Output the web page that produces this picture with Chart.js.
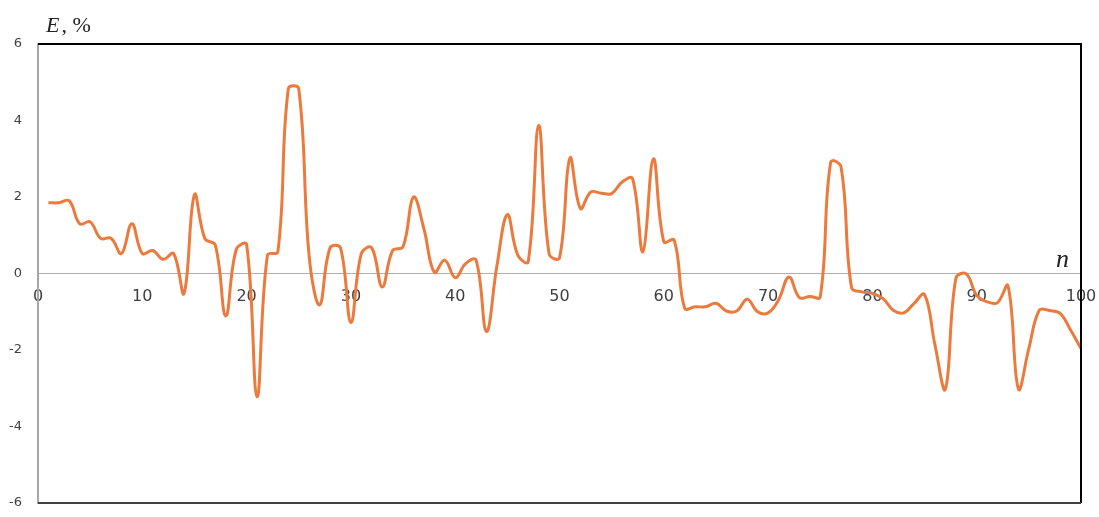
<!DOCTYPE html>
<html lang="ru">
<head>
<meta charset="UTF-8">
<title>E, % по n</title>
<script src="https://cdn.jsdelivr.net/npm/chart.js"></script>
<style>
    body { margin: 0; background: #fff; }
    #wrap { width: 1099px; height: 517px; }
</style>
</head>
<body>
<div id="wrap">
    <canvas id="chartErro" width="1099" height="517"></canvas>
</div>

<script>
// valores (n = 1..100)
const erros = [
    1.85, 1.85, 1.9, 1.3, 1.35, 0.92, 0.92, 0.52, 1.3, 0.52,
    0.6, 0.37, 0.52, -0.52, 2.06, 0.91, 0.74, -1.11, 0.62, 0.76,
    -3.22, 0.48, 0.57, 4.83, 4.83, 0.45, -0.82, 0.67, 0.67, -1.28,
    0.52, 0.67, -0.35, 0.6, 0.7, 2.0, 1.17, 0.03, 0.35, -0.11,
    0.26, 0.35, -1.52, 0.2, 1.54, 0.48, 0.31, 3.87, 0.52, 0.41,
    3.02, 1.7, 2.13, 2.1, 2.09, 2.39, 2.48, 0.57, 3.0, 0.83,
    0.87, -0.91, -0.87, -0.87, -0.78, -0.98, -0.98, -0.67, -1.0, -1.03,
    -0.69, -0.09, -0.63, -0.6, -0.61, 2.91, 2.78, -0.37, -0.48, -0.52,
    -0.65, -0.96, -1.03, -0.78, -0.55, -1.87, -3.02, -0.13, -0.01, -0.57,
    -0.74, -0.76, -0.32, -3.02, -1.96, -0.96, -0.97, -1.04, -1.48, -1.96
];
const indices = erros.map((v, i) => i + 1);

const xTicks = [0, 10, 20, 30, 40, 50, 60, 70, 80, 90, 100];
const yTicks = [-6, -4, -2, 0, 2, 4, 6];

const pontos = indices.map((n, i) => ({ x: n, y: erros[i] }));

// moldura + rótulos dos eixos
const moldura = {
    id: 'moldura',
    afterDatasetsDraw(chart) {
        const ctx = chart.ctx;
        const a = chart.chartArea;
        ctx.save();
        ctx.lineWidth = 2;
        ctx.strokeStyle = '#000';
        ctx.beginPath();
        ctx.moveTo(a.left, a.top);
        ctx.lineTo(a.right, a.top);
        ctx.lineTo(a.right, a.bottom);
        ctx.stroke();
        ctx.strokeStyle = '#404040';
        ctx.beginPath();
        ctx.moveTo(a.left, a.bottom);
        ctx.lineTo(a.right, a.bottom);
        ctx.stroke();

        ctx.fillStyle = '#222';
        ctx.textBaseline = 'alphabetic';
        ctx.textAlign = 'left';
        ctx.font = 'italic 22px "Liberation Serif"';
        ctx.fillText('E', 46, 32);
        const w = ctx.measureText('E').width;
        ctx.font = '22px "Liberation Serif"';
        ctx.fillText(', %', 46 + w + 2, 32);

        ctx.font = 'italic 26px "Liberation Serif"';
        ctx.fillText('n', 1056, 267);
        ctx.restore();
    }
};

const config = {
    type: 'line',
    data: {
        datasets: [{
            label: 'E, %',
            data: pontos,
            borderColor: '#EB7A3C',
            borderWidth: 3,
            pointRadius: 0,
            tension: 0.4,
            fill: false
        }]
    },
    options: {
        responsive: false,
        animation: false,
        layout: { padding: { left: 0, top: 44, right: 18, bottom: 14 } },
        plugins: {
            legend: { display: false },
            tooltip: { enabled: false }
        },
        scales: {
            x: {
                type: 'linear',
                position: { y: 0 },
                min: 0,
                max: 100,
                afterFit(scale) {
                    scale.height = 0;
                    scale.paddingLeft = 0;
                    scale.paddingRight = 0;
                },
                afterBuildTicks(scale) { scale.ticks = xTicks.map(v => ({ value: v })); },
                grid: { display: false },
                border: { display: true, color: '#b0b0b0', width: 1 },
                ticks: {
                    color: '#404040',
                    padding: 6,
                    maxRotation: 0,
                    autoSkip: false,
                    font: { family: 'DejaVu Sans', size: 16 }
                }
            },
            y: {
                min: -6,
                max: 6,
                afterFit(scale) {
                    scale.width = 38;
                    scale.paddingTop = 0;
                    scale.paddingBottom = 0;
                },
                afterBuildTicks(scale) { scale.ticks = yTicks.map(v => ({ value: v })); },
                grid: { display: false },
                border: { display: true, color: '#a6a6a6', width: 2 },
                ticks: {
                    color: '#404040',
                    padding: 8,
                    font: { family: 'DejaVu Sans', size: 13 }
                }
            }
        }
    },
    plugins: [moldura]
};

const grafico = new Chart(document.getElementById('chartErro'), config);
</script>
</body>
</html>
